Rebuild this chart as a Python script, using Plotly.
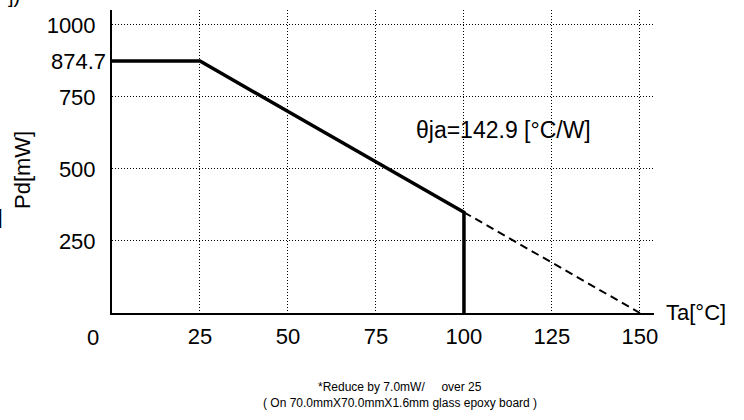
import plotly.graph_objects as go

# ---- data ----
ta_solid = [0, 25, 100, 100]
pd_solid = [874.7, 874.7, 349.7, 0]
ta_dash = [100, 150]
pd_dash = [349.7, 0]
x_ticks = [25, 50, 75, 100, 125, 150]
y_ticks = [250, 500, 750, 1000]
pd_max_label = "874.7"
theta_label = "θja=142.9 [°C/W]"
note_lines = ["*Reduce by 7.0mW/     over 25",
              "( On 70.0mmX70.0mmX1.6mm glass epoxy board )"]

W, H = 744, 420
ML, MR, MT, MB = 112, 90, 10, 107
PW, PH = W - ML - MR, H - MT - MB
FONT = "Arial, Liberation Sans, Helvetica, sans-serif"

def px(x):
    return (x - ML) / PW

def py(y):
    return (H - MB - y) / PH

fig = go.Figure()
fig.add_trace(go.Scatter(x=ta_solid, y=pd_solid, mode="lines",
                         line=dict(color="black", width=3.5), hoverinfo="skip"))
fig.add_trace(go.Scatter(x=ta_dash, y=pd_dash, mode="lines",
                         line=dict(color="black", width=2, dash="8px,5px"),
                         hoverinfo="skip"))

ann = [
    dict(text=pd_max_label, x=0, y=874.7, xref="x", yref="y", xanchor="right",
         yanchor="middle", xshift=-4, showarrow=False, font=dict(size=22)),
    dict(text="0", x=px(93), y=py(337), xref="paper", yref="paper", xanchor="center",
         yanchor="middle", showarrow=False, font=dict(size=22)),
    dict(text="Pd[mW]", x=px(23), y=py(170), xref="paper", yref="paper", xanchor="center",
         yanchor="middle", textangle=-90, showarrow=False, font=dict(size=22)),
    dict(text="Ta[°C]", x=px(664), y=py(312), xref="paper", yref="paper", xanchor="left",
         yanchor="middle", showarrow=False, font=dict(size=22)),
    dict(text=theta_label, x=px(503), y=py(130), xref="paper", yref="paper",
         xanchor="center", yanchor="middle", showarrow=False, font=dict(size=23)),
    dict(text=note_lines[0], x=px(400), y=py(387), xref="paper", yref="paper",
         xanchor="center", yanchor="middle", showarrow=False, font=dict(size=12)),
    dict(text=note_lines[1], x=px(400), y=py(403), xref="paper", yref="paper",
         xanchor="center", yanchor="middle", showarrow=False, font=dict(size=12)),
    # fragments of neighbouring text cut by the image edge
    dict(text="]", x=px(5), y=py(217), xref="paper", yref="paper",
         xanchor="right", yanchor="middle", showarrow=False, font=dict(size=20)),
    dict(text="])", x=px(22), y=py(9), xref="paper", yref="paper",
         xanchor="right", yanchor="bottom", showarrow=False, font=dict(size=20)),
]

fig.update_layout(
    width=W, height=H,
    margin=dict(l=ML, r=MR, t=MT, b=MB, pad=0),
    paper_bgcolor="white", plot_bgcolor="white",
    font=dict(family=FONT, color="black", size=22),
    showlegend=False,
    annotations=ann,
)
fig.update_xaxes(range=[0, 154], tickvals=x_ticks, showgrid=True, gridcolor="black",
                 gridwidth=1, griddash="1px,2px", zeroline=False, showline=True,
                 linecolor="black", linewidth=2, ticks="", ticklabelstandoff=3,
                 tickfont=dict(size=22))
fig.update_yaxes(range=[0, 1052], tickvals=y_ticks, showgrid=True, gridcolor="black",
                 gridwidth=1, griddash="1px,2px", zeroline=False, showline=True,
                 linecolor="black", linewidth=2, ticks="", ticklabelstandoff=10,
                 tickfont=dict(size=22))

fig.write_html("out.html", config={"displayModeBar": False},
               post_script="document.body.style.margin='0';document.body.style.overflow='hidden';")
